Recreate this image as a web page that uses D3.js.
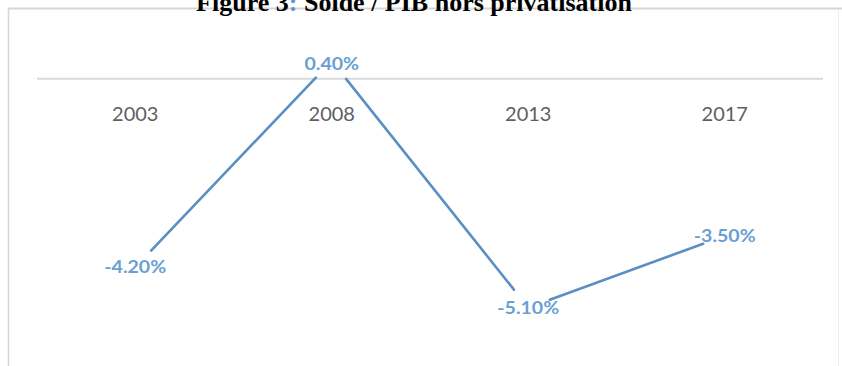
<!DOCTYPE html>
<html><head><meta charset="utf-8">
<script src="https://cdn.jsdelivr.net/npm/d3@7"></script>
<style>html,body{margin:0;padding:0;background:#fff;}svg{display:block;}</style>
</head><body>
<svg id="c" width="842" height="366"></svg>
<script>
const categories = ["2003", "2008", "2013", "2017"];
const values = [-4.2, 0.4, -5.1, -3.5];
const valueLabels = ["-4.20%", "0.40%", "-5.10%", "-3.50%"];
const yDomain = [-6, 1];
const titleParts = [["Figure 3", "#000"], [":", "#5b9bd5"], [" Solde / PIB hors privatisation", "#000"]];

const svg = d3.select("#c");
const W = 842, H = 366;

// frame
svg.append("line").attr("x1", 8).attr("x2", W).attr("y1", 8.5).attr("y2", 8.5).attr("stroke", "#d6d6d6").attr("stroke-width", 2);
svg.append("line").attr("x1", 8.5).attr("x2", 8.5).attr("y1", 8).attr("y2", H).attr("stroke", "#d6d6d6").attr("stroke-width", 1.5);
svg.append("line").attr("x1", 838.5).attr("x2", 838.5).attr("y1", 10).attr("y2", H).attr("stroke", "#f0f0f0").attr("stroke-width", 1);

// title
const t = svg.append("text").attr("x", 414).attr("y", 11).attr("text-anchor", "middle")
  .attr("font-family", "Liberation Serif, Times New Roman, serif").attr("font-weight", "bold").attr("font-size", 26);
titleParts.forEach(p => t.append("tspan").attr("fill", p[1]).text(p[0]));

const x = d3.scaleBand().domain(categories).range([37, 823]);
const y = d3.scaleLinear().domain(yDomain).range([348, 34]);

// zero line
svg.append("line").attr("x1", 37).attr("x2", 823).attr("y1", y(0)).attr("y2", y(0))
  .attr("stroke", "#dadada").attr("stroke-width", 2);

// category axis labels
const axis = d3.axisBottom(x).tickSize(0).tickPadding(0);
const ag = svg.append("g").attr("transform", `translate(0,${y(0) + 28})`).call(axis);
ag.select(".domain").remove();
ag.selectAll("text").attr("font-family", "Lato, Calibri, sans-serif").attr("font-size", 20)
  .attr("fill", "#5f5f5f").attr("dy", "0.71em");

const pts = categories.map((c, i) => ({ c, v: values[i], l: valueLabels[i], px: x(c) + x.bandwidth() / 2, py: y(values[i]) }));

// line segments, interrupted around each data label
const gap = 23;
const segs = d3.pairs(pts).map(([a, b]) => {
  const dx = b.px - a.px, dy = b.py - a.py, len = Math.hypot(dx, dy);
  const ux = dx / len, uy = dy / len;
  return [[a.px + ux * gap, a.py + uy * gap], [b.px - ux * gap, b.py - uy * gap]];
});
svg.append("g").selectAll("path").data(segs).join("path")
  .attr("d", d => d3.line()(d)).attr("fill", "none")
  .attr("stroke", "#5b8fc2").attr("stroke-width", 2.6).attr("stroke-linecap", "round");

// data labels
const lg = svg.append("g").selectAll("g").data(pts).join("g")
  .attr("transform", d => `translate(${d.px},${d.py + (d.v >= 0 ? 3 : 0)}) scale(1.15,1)`);
lg.append("text").attr("text-anchor", "middle").attr("dy", "0.36em")
  .attr("font-family", "Lato, Calibri, sans-serif").attr("font-weight", "bold").attr("font-size", 17)
  .attr("fill", "#6a9fd3").text(d => d.l);
</script>
</body></html>
